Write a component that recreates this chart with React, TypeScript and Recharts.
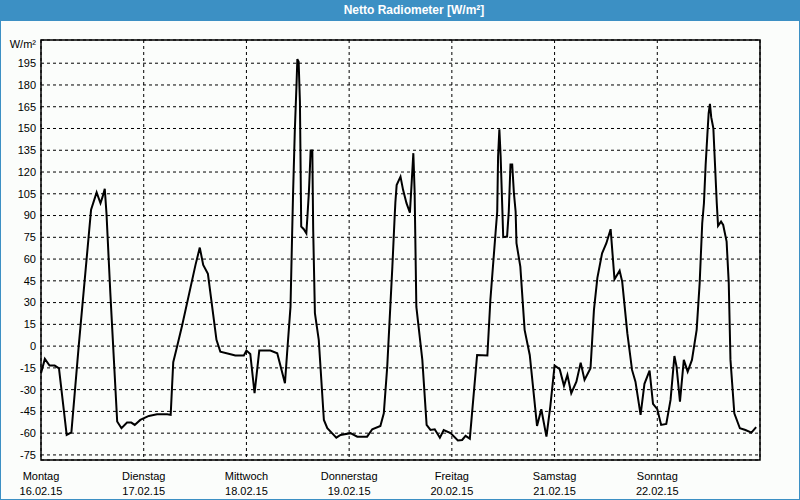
// App.tsx — Netto Radiometer, one week of net radiation (W/m²).

import { CartesianGrid, Line, LineChart, ReferenceArea, XAxis, YAxis } from "recharts";

const hours = [
  0, 0.9, 2.0, 3.2, 4.2, 6.0, 7.1, 8.8, 11.7, 13.0, 13.9, 14.4, 14.9, 15.3, 16.2, 17.8, 18.8, 20.1, 21.1,
  21.9, 23.2, 25.2, 27.1, 29.5, 30.3, 30.9, 31.8, 33.0, 36.1, 37.1, 37.9, 39.0, 41.0, 41.9, 44.3, 45.4,
  47.4, 48.0, 48.9, 49.9, 51.0, 53.6, 55.2, 57.0, 57.5, 58.3, 58.7, 58.9, 59.3, 59.7, 59.9, 60.2, 60.5,
  60.6, 60.8, 61.4, 62.0, 62.3, 62.6, 62.8, 63.0, 63.4, 63.5, 63.6, 64.0, 64.9, 66.1, 66.9, 68.0, 69.0,
  70.0, 72.3, 73.9, 76.2, 77.4, 79.3, 80.1, 80.9, 82.1, 82.6, 82.8, 83.1, 84.0, 84.6, 85.4, 86.2, 86.6,
  87.0, 87.3, 87.7, 89.1, 90.1, 91.0, 92.0, 93.2, 94.1, 95.7, 97.4, 98.4, 99.2, 100.2, 101.9, 104.3,
  105.0, 106.2, 106.6, 106.8, 107.1, 107.4, 107.8, 108.0, 108.9, 109.3, 109.7, 110.1, 110.5, 110.9,
  111.1, 112.0, 113.0, 114.2, 115.9, 116.9, 118.1, 119.0, 120.0, 121.2, 122.2, 123.0, 123.9, 125.1,
  126.1, 127.0, 128.4, 129.2, 130.0, 131.1, 132.1, 133.1, 134.0, 135.2, 135.8, 137.0, 138.1, 138.9,
  140.1, 141.0, 142.2, 143.0, 144.0, 144.9, 146.1, 147.1, 148.0, 148.5, 149.3, 150.2, 151.1, 152.1,
  153.2, 153.9, 154.5, 154.9, 155.3, 155.7, 156.0, 156.3, 156.6, 157.1, 157.4, 157.9, 158.2, 158.9,
  159.4, 160.2, 160.7, 161.1, 162.0, 163.3, 164.6, 166.0, 167.1,
];

const netRadiation = [
  -18.7, -8.8, -13.4, -13.4, -15.3, -61.2, -59.4, -0.3, 94, 106, 98.5, 103, 108.4, 91.6, 36.5, -52, -56.6,
  -52.7, -52.7, -54.3, -50.9, -48.1, -47, -47, -47.4, -11.1, -0.3, 14.6, 56, 67.9, 56, 49.8, 4.3, -3.8,
  -5.6, -6.5, -6.5, -3.1, -5.4, -32.5, -3.1, -3.1, -4.9, -25.6, -4.9, 27.2, 80, 105.4, 147.9, 180, 197.8,
  196, 168.5, 139.9, 82.4, 80.6, 77.8, 91.6, 106.5, 120.3, 134.8, 134.8, 106.5, 80, 22.7, 4.3, -50.9,
  -56.6, -60, -63.1, -61.2, -60, -62.4, -62.4, -57.3, -55, -46.3, -14.1, 54.8, 87, 98.9, 111, 116.8,
  107.7, 98.5, 92, 112.3, 133, 106.5, 27.2, -9.5, -54.3, -57.8, -57.3, -63.1, -57.8, -60, -65.1, -64.7,
  -61.9, -63.8, -6.1, -6.5, 31.8, 77.8, 92.8, 130.7, 149.5, 130.7, 93.9, 75.1, 75.5, 92.8, 125.2, 125.2,
  105.4, 92.8, 70.9, 54.8, 11.2, -6.1, -55, -43.5, -62.4, -41.7, -13.4, -15.9, -27.4, -19.9, -32.5,
  -24.5, -11.4, -23.3, -15.3, 25, 47, 64, 70.9, 80.6, 46.1, 52, 44.5, 8.9, -16.4, -24.5, -47.4, -26,
  -16.9, -39.8, -43.5, -54.3, -53.6, -37.1, -6.8, -14.1, -38.3, -9.5, -17.6, -9.5, 11.2, 43.4, 84.7,
  98.5, 125, 145.6, 160.5, 167, 157.8, 150.2, 130.7, 98.5, 82.9, 85.8, 83.5, 72, 43.4, -9.5, -46.3,
  -56.6, -57.8, -59.6, -55.9,
];

const dayTicks = [0, 24, 48, 72, 96, 120, 144];
const dayNames = ["Montag", "Dienstag", "Mittwoch", "Donnerstag", "Freitag", "Samstag", "Sonntag"];
const dayDates = ["16.02.15", "17.02.15", "18.02.15", "19.02.15", "20.02.15", "21.02.15", "22.02.15"];
const yTicks = [-75, -60, -45, -30, -15, 0, 15, 30, 45, 60, 75, 90, 105, 120, 135, 150, 165, 180, 195];

const xDomain: [number, number] = [0, 168];
const yDomain: [number, number] = [-78.5, 211];

const rows = hours.map((h, i) => ({ h, v: netRadiation[i] }));

const FONT = "'Liberation Sans', Arial, sans-serif";
const BLUE = "#3c90c4";

function DayTick({ x, y, payload }: any) {
  const i = dayTicks.indexOf(payload.value);
  return (
    <g transform={`translate(${x},${y})`} fontFamily={FONT} fontSize={11} fill="#000">
      <text x={0} y={8} textAnchor="middle" dy="0.355em">{dayNames[i]}</text>
      <text x={0} y={23} textAnchor="middle" dy="0.355em">{dayDates[i]}</text>
    </g>
  );
}

export default function App() {
  return (
    <div
      style={{
        position: "absolute",
        left: 0,
        top: 0,
        width: 800,
        height: 500,
        background: "#fbfdfb",
        fontFamily: FONT,
      }}
    >
      <div
        style={{
          position: "absolute",
          left: 0,
          top: 0,
          width: 800,
          height: 21,
          background: BLUE,
          color: "#fff",
          fontWeight: "bold",
          fontSize: 12,
          lineHeight: "21px",
        }}
      >
        <span style={{ position: "absolute", left: 414, transform: "translateX(-50%)", whiteSpace: "nowrap" }}>
          Netto Radiometer [W/m²]
        </span>
      </div>
      <div style={{ position: "absolute", right: 764, top: 38, fontSize: 11, color: "#000", whiteSpace: "nowrap" }}>
        W/m²
      </div>
      <div style={{ position: "absolute", left: 0, top: 0 }}>
        <LineChart width={800} height={500} data={rows} margin={{ top: 40, right: 40, bottom: 0, left: 6 }}>
          <CartesianGrid stroke="#000" strokeDasharray="3 3" strokeWidth={1} />
          <XAxis
            dataKey="h"
            type="number"
            domain={xDomain}
            ticks={dayTicks}
            tick={<DayTick />}
            axisLine={false}
            tickLine={false}
            height={40}
            interval={0}
          />
          <YAxis
            type="number"
            domain={yDomain}
            ticks={yTicks}
            width={35}
            axisLine={false}
            tickLine={false}
            tickSize={0}
            tickMargin={5}
            interval={0}
            tick={{ fontFamily: FONT, fontSize: 11, fill: "#000" }}
          />
          <ReferenceArea
            x1={xDomain[0]}
            x2={xDomain[1]}
            y1={yDomain[0]}
            y2={yDomain[1]}
            fill="none"
            stroke="#000"
            strokeWidth={1.5}
          />
          <Line
            dataKey="v"
            type="linear"
            stroke="#000"
            strokeWidth={2}
            dot={false}
            isAnimationActive={false}
          />
        </LineChart>
      </div>
      <div
        style={{
          position: "absolute",
          left: 0,
          top: 21,
          width: 800,
          height: 479,
          boxSizing: "border-box",
          borderLeft: `1px solid ${BLUE}`,
          borderRight: `1px solid ${BLUE}`,
          borderBottom: `1px solid ${BLUE}`,
          pointerEvents: "none",
        }}
      />
    </div>
  );
}
